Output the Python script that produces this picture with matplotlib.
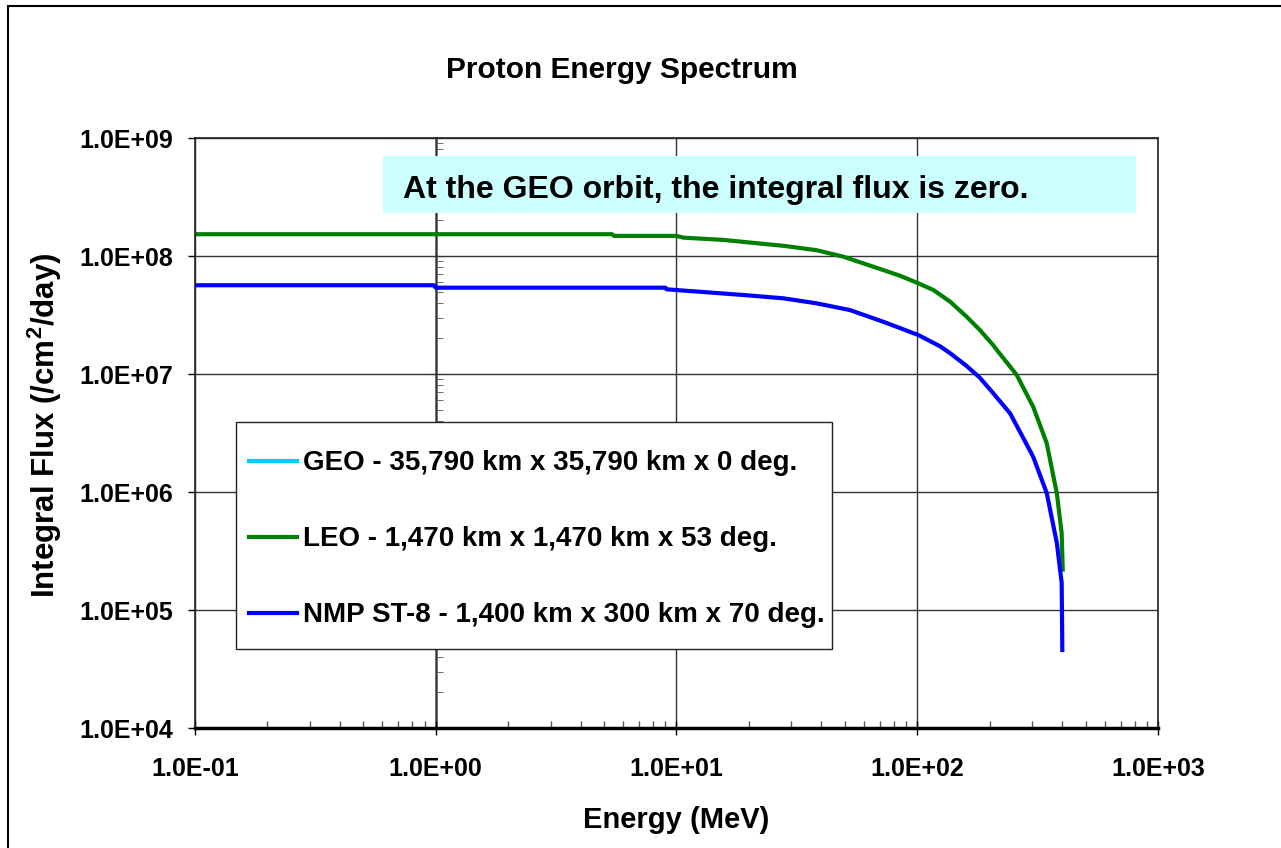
"""
Proton energy spectrum: integral flux vs energy for three orbits (log-log).
"""

import matplotlib

matplotlib.use("Agg")
import matplotlib.pyplot as plt
from matplotlib.patches import Rectangle
from matplotlib.ticker import FuncFormatter, LogLocator, NullFormatter

plt.rcParams["font.family"] = ["Liberation Sans", "DejaVu Sans"]
plt.rcParams["font.weight"] = "bold"
plt.rcParams["mathtext.fontset"] = "custom"
plt.rcParams["mathtext.bf"] = "Liberation Sans:bold"
plt.rcParams["mathtext.rm"] = "Liberation Sans:bold"

# --- data ---
geo_energy = [0.1, 1.0, 10.0, 100.0, 400.0]
geo_flux = [0.0, 0.0, 0.0, 0.0, 0.0]  # zero everywhere, nothing shows on log axis

leo_energy = [0.1, 5.4, 5.5, 10.0, 10.7, 15.6, 20.2, 27.8, 38.2, 49.3, 72.3,
              84.8, 101.0, 116.7, 137.0, 160.3, 182.0, 207.0, 214.0, 259.0,
              303.0, 345.0, 380.0, 398.0, 402.0]
leo_flux = [1.53e8, 1.53e8, 1.48e8, 1.48e8, 1.43e8, 1.37e8, 1.30e8, 1.22e8, 1.12e8,
            9.87e7, 7.6e7, 6.8e7, 5.87e7, 5.15e7, 4.1e7, 3.06e7, 2.36e7, 1.75e7,
            1.6e7, 9.8e6, 5.28e6, 2.59e6, 9.75e5, 4.47e5, 2.2e5]

nmp_energy = [0.1, 0.98, 1.0, 9.0, 9.1, 14.2, 19.0, 27.8, 38.2, 52.6, 72.3,
              84.8, 101.0, 124.2, 137.0, 160.3, 182.0, 207.0, 243.0, 267.0,
              303.0, 345.0, 380.0, 398.0, 400.5]
nmp_flux = [5.65e7, 5.65e7, 5.39e7, 5.39e7, 5.22e7, 4.88e7, 4.67e7, 4.38e7, 3.97e7,
            3.48e7, 2.77e7, 2.45e7, 2.14e7, 1.72e7, 1.5e7, 1.17e7, 9.3e6, 6.86e6,
            4.64e6, 3.24e6, 1.99e6, 9.8e5, 3.7e5, 1.7e5, 4.58e4]

series_labels = [
    "GEO - 35,790 km x 35,790 km x 0 deg.",
    "LEO - 1,470 km x 1,470 km x 53 deg.",
    "NMP ST-8 - 1,400 km x 300 km x 70 deg.",
]
note_text = "At the GEO orbit, the integral flux is zero."

W, H = 1281, 848
fig = plt.figure(figsize=(W / 100, H / 100), dpi=100)
ax = fig.add_axes([195 / W, 1 - 728 / H, (1158 - 195) / W, (728 - 138) / H])

ax.set_xscale("log")
ax.set_yscale("log", nonpositive="mask")

ax.plot(geo_energy, geo_flux, color="#00CCFF", lw=3, label=series_labels[0])
ax.plot(leo_energy, leo_flux, color="#008000", lw=3, label=series_labels[1])
ax.plot(nmp_energy, nmp_flux, color="#0000FF", lw=3, label=series_labels[2])

ax.set_xlim(0.1, 1000)
ax.set_ylim(1e4, 1e9)

fmt = FuncFormatter(lambda v, p: f"{v:.1E}")
ax.xaxis.set_major_locator(LogLocator(base=10, numticks=10))
ax.yaxis.set_major_locator(LogLocator(base=10, numticks=10))
ax.xaxis.set_major_formatter(fmt)
ax.yaxis.set_major_formatter(fmt)
ax.xaxis.set_minor_locator(LogLocator(base=10, subs=range(2, 10), numticks=20))
ax.xaxis.set_minor_formatter(NullFormatter())
ax.yaxis.set_minor_locator(LogLocator(base=10, subs=[], numticks=10))
ax.yaxis.set_minor_formatter(NullFormatter())

ax.tick_params(axis="both", which="major", labelsize=18, length=5, width=1)
ax.tick_params(axis="x", which="major", direction="inout", length=10, pad=16)
ax.tick_params(axis="x", which="minor", direction="in", length=5, width=1, color="#555555")
ax.tick_params(axis="y", which="major", direction="out", length=5, pad=10.5)

for side in ["top", "right", "left"]:
    ax.spines[side].set_linewidth(1.2)
    ax.spines[side].set_color("#222222")
ax.spines["bottom"].set_linewidth(2.5)
ax.spines["bottom"].set_color("black")

ax.grid(True, which="major", color="#333333", linewidth=1)
ax.set_axisbelow(True)

# value axis crosses at 1.0E+00 with minor ticks on it
yax = ax.secondary_yaxis(0.25)
yax.spines["left"].set_color("#777777")
yax.spines["left"].set_linewidth(2)
yax.yaxis.set_major_locator(LogLocator(base=10, numticks=10))
yax.yaxis.set_minor_locator(LogLocator(base=10, subs=range(2, 10), numticks=20))
yax.yaxis.set_major_formatter(NullFormatter())
yax.yaxis.set_minor_formatter(NullFormatter())
yax.tick_params(which="major", direction="inout", length=10, color="#777777")
yax.tick_params(which="minor", direction="in", length=5, color="#555555")

ax.set_xlabel("Energy (MeV)", fontsize=21, fontweight="bold", labelpad=18)
ax.set_ylabel(r"Integral Flux (/cm$^{\mathbf{2}}$/day)", fontsize=22.5,
              fontweight="bold")
ax.yaxis.set_label_coords((64 - 195) / 963, (728 - 425) / 590)
fig.text(622 / W, 1 - 70 / H, "Proton Energy Spectrum", fontsize=21.5,
         fontweight="bold", ha="center", va="center")

# cyan note box
fig.add_artist(Rectangle((383 / W, 1 - 213 / H), (1136 - 383) / W, (213 - 156) / H,
                         transform=fig.transFigure, facecolor="#CCFFFF",
                         edgecolor="none", zorder=5))
fig.text(403 / W, 1 - 190 / H, note_text, fontsize=23, fontweight="bold",
         ha="left", va="center", zorder=6)

# legend frame drawn separately so that its size matches the picture
ax.add_patch(Rectangle((236 / W, 1 - 649 / H), (832 - 236) / W, (649 - 422) / H,
                       transform=fig.transFigure, facecolor="white",
                       edgecolor="#222222", linewidth=1, zorder=5, clip_on=False))
leg = ax.legend(loc="upper left", bbox_to_anchor=(236 / W, 1 - 438 / H),
                bbox_transform=fig.transFigure, borderaxespad=0, fontsize=20,
                frameon=False, handlelength=1.76, handletextpad=0.2,
                labelspacing=1.8, borderpad=0.45)
leg.set_zorder(6)

# outer chart border (left and top edges visible in the picture)
fig.add_artist(Rectangle((8 / W, -0.1), 1.2, 1 - 6 / H + 0.1,
                         transform=fig.transFigure, facecolor="none",
                         edgecolor="black", linewidth=1.5))

plt.savefig("out.png", dpi=100)
